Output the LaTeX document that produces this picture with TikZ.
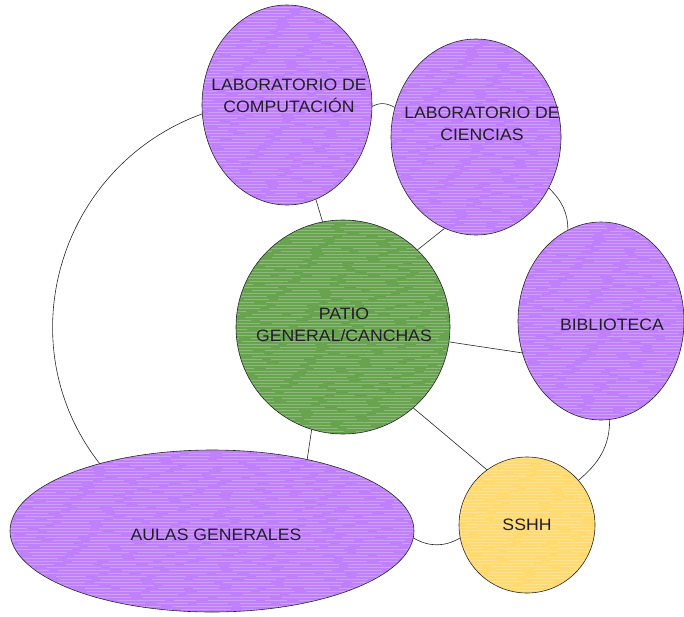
\documentclass[tikz,border=0pt]{standalone}
\usepackage{fontspec}
\setmainfont{Liberation Sans}[FakeStretch=1.07]
\usetikzlibrary{shapes.geometric}
\definecolor{purp}{RGB}{192,128,252}
\definecolor{grn}{RGB}{104,164,80}
\definecolor{sand}{RGB}{255,218,112}
\definecolor{ink}{RGB}{36,30,40}
\newcommand\mystreaks{%
 \foreach \k in {0,...,72}{%
   \pgfmathsetmacro\ph{mod(\k*53,97)}%
   \pgfmathsetmacro\wa{18+mod(\k*31,40)}%
   \pgfmathsetmacro\wb{25+mod(\k*17,45)}%
   \draw[white, opacity=0.25, line width=0.8pt, dash pattern=on \wa pt off 12pt on \wb pt off 9pt, dash phase=\ph pt]
     ([yshift=\k*3pt]path picture bounding box.south west) -- ([yshift=\k*3pt]path picture bounding box.south east);
 }}
\tikzset{
 place/.style={ellipse, draw=black!85, line width=0.6pt, fill=#1, inner sep=0pt, path picture={\mystreaks}},
 lbl/.style={font=\fontsize{16.5}{22}\selectfont, text=ink, align=center, inner sep=0pt},
 link/.style={draw=black!85, line width=0.6pt},
}
\begin{document}
\begin{tikzpicture}[x=1pt,y=-1pt]
\useasboundingbox (0,0) rectangle (684,616);
% places
\node[place=purp, minimum width=170pt, minimum height=200pt] (comp) at (287,105) {};
\node[place=purp, minimum width=170pt, minimum height=196pt] (cien) at (476,137) {};
\node[place=purp, minimum width=166pt, minimum height=198pt] (bib) at (601,321) {};
\node[place=grn, circle, minimum size=214pt] (patio) at (343,327) {};
\node[place=sand, circle, minimum size=136pt] (sshh) at (527,525) {};
\node[place=purp, minimum width=404pt, minimum height=162pt] (aulas) at (212,531) {};
% labels
\node[lbl] (tcomp) at (289,96) {LABORATORIO DE\\COMPUTACIÓN};
\node[lbl] (tcien) at (482,124) {LABORATORIO DE\\CIENCIAS};
\node[lbl] (tbib) at (612,325) {BIBLIOTECA};
\node[lbl] (tpatio) at (344,325) {PATIO\\GENERAL/CANCHAS};
\node[lbl] (taulas) at (216,535) {AULAS GENERALES};
\node[lbl] (tsshh) at (527,525) {SSHH};
% straight connectors
\path[link] (comp.-73.5) -- (patio.101);
\path[link] (cien.-109) -- (patio.46);
\path[link] (patio.-8.5) -- (bib.202);
\path[link] (patio.-49) -- (sshh.126);
\path[link] (patio.-107) -- (aulas.37);
% curved connectors
\path[link] (comp.186) to[out=200, in=128, looseness=1.07] (aulas.149.5);
\path[link] (comp.-1) to[out=30, in=150] (cien.160.5);
\path[link] (cien.-35) to[out=-45, in=90] (bib.110);
\path[link] (bib.-85) to[out=-90, in=40] (sshh.41);
\path[link] (aulas.-2.3) to[out=-30, in=210] (sshh.191);
\end{tikzpicture}
\end{document}
